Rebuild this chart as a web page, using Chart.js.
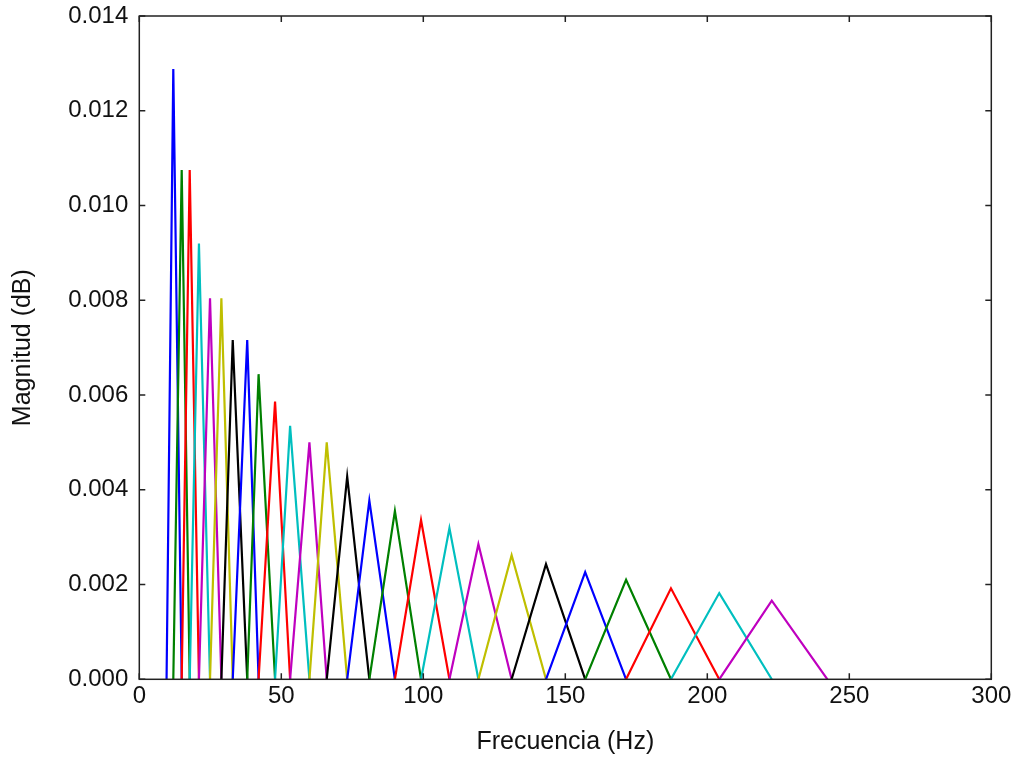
<!DOCTYPE html>
<html>
<head>
<meta charset="utf-8">
<title>Banco de filtros</title>
<script src="https://cdn.jsdelivr.net/npm/chart.js@4/dist/chart.umd.min.js"></script>
<style>
  html, body { margin: 0; padding: 0; background: #fff; }
  #wrap { width: 1017px; height: 762px; }
</style>
</head>
<body>
<div id="wrap"><canvas id="filtros" width="1017" height="762"></canvas></div>
<script>
// band edges in Hz: first foot, the 26 peak frequencies, last foot
const edgeFreqs = [9.6,
  11.97, 14.93, 17.75, 21.0, 24.9, 28.9, 32.9, 38.0, 42.0, 47.8,
  53.1, 59.9, 66.0, 73.2, 81.0, 90.0, 99.2, 109.2, 119.4, 131.1,
  143.2, 157.0, 171.4, 187.2, 204.2, 222.7,
  242.3];

// peak height of each triangular filter
const peakMag = [
  0.01288, 0.01075, 0.01075, 0.00920, 0.00804, 0.00804, 0.00716, 0.00716,
  0.00644, 0.00586, 0.00535, 0.00500, 0.00500, 0.00428, 0.00377, 0.00355,
  0.00336, 0.00319, 0.00285, 0.00262, 0.00243, 0.00226, 0.00210, 0.00192,
  0.00182, 0.00166];

const xTicks = [0, 50, 100, 150, 200, 250, 300];
const yTicks = [0, 0.002, 0.004, 0.006, 0.008, 0.010, 0.012, 0.014];

// old matplotlib colour cycle: b g r c m y k
const cycle = ['#0000ff', '#008000', '#ff0000', '#00bfbf', '#bf00bf', '#bfbf00', '#000000'];

const datasets = peakMag.map(function (h, i) {
  return {
    label: 'filtro ' + (i + 1),
    data: [
      { x: edgeFreqs[i], y: 0 },
      { x: edgeFreqs[i + 1], y: h },
      { x: edgeFreqs[i + 2], y: 0 }
    ],
    borderColor: cycle[i % cycle.length],
    borderWidth: 2.2,
    pointRadius: 0,
    tension: 0,
    fill: false,
    order: peakMag.length - i
  };
});

// frame on all four sides with inward tick marks
const frameTicks = {
  id: 'frameTicks',
  afterDraw(chart) {
    const ctx = chart.ctx;
    const a = chart.chartArea;
    const xs = chart.scales.x, ys = chart.scales.y;
    const len = 6;
    ctx.save();
    ctx.strokeStyle = '#222';
    ctx.lineWidth = 1.5;
    ctx.beginPath();
    xTicks.forEach(function (v) {
      const px = xs.getPixelForValue(v);
      ctx.moveTo(px, a.bottom); ctx.lineTo(px, a.bottom - len);
      ctx.moveTo(px, a.top); ctx.lineTo(px, a.top + len);
    });
    yTicks.forEach(function (v) {
      const py = ys.getPixelForValue(v);
      ctx.moveTo(a.left, py); ctx.lineTo(a.left + len, py);
      ctx.moveTo(a.right, py); ctx.lineTo(a.right - len, py);
    });
    ctx.stroke();
    ctx.strokeRect(a.left, a.top, a.right - a.left, a.bottom - a.top);
    ctx.restore();
  }
};

const tickFont = { family: 'Liberation Sans, Arial, sans-serif', size: 24 };
const titleFont = { family: 'Liberation Sans, Arial, sans-serif', size: 25 };

new Chart(document.getElementById('filtros'), {
  type: 'line',
  data: { datasets: datasets },
  options: {
    responsive: false,
    animation: false,
    layout: { padding: { top: 16, right: 25.7, bottom: 0, left: 0 } },
    plugins: { legend: { display: false }, tooltip: { enabled: false } },
    scales: {
      x: {
        type: 'linear',
        min: 0, max: 300,
        afterFit(scale) {
          scale.height = 82.7;
          scale.paddingLeft = 0;
          scale.paddingRight = 0;
        },
        afterBuildTicks(scale) { scale.ticks = xTicks.map(function (v) { return { value: v }; }); },
        grid: { display: false, drawTicks: false },
        border: { display: false },
        ticks: { color: '#111', font: tickFont, padding: 3, maxRotation: 0 },
        title: { display: true, text: 'Frecuencia (Hz)', color: '#111', font: titleFont, padding: { top: 0, bottom: 5 } }
      },
      y: {
        type: 'linear',
        min: 0, max: 0.014,
        afterFit(scale) {
          scale.width = 139.3;
          scale.paddingTop = 0;
          scale.paddingBottom = 0;
        },
        afterBuildTicks(scale) { scale.ticks = yTicks.map(function (v) { return { value: v }; }); },
        grid: { display: false, drawTicks: false },
        border: { display: false },
        ticks: {
          color: '#111', font: tickFont, padding: 11,
          callback: function (v) { return Number(v).toFixed(3); }
        },
        title: { display: true, text: 'Magnitud (dB)', color: '#111', font: titleFont, padding: { top: 8, bottom: 0 } }
      }
    }
  },
  plugins: [frameTicks]
});
</script>
</body>
</html>
